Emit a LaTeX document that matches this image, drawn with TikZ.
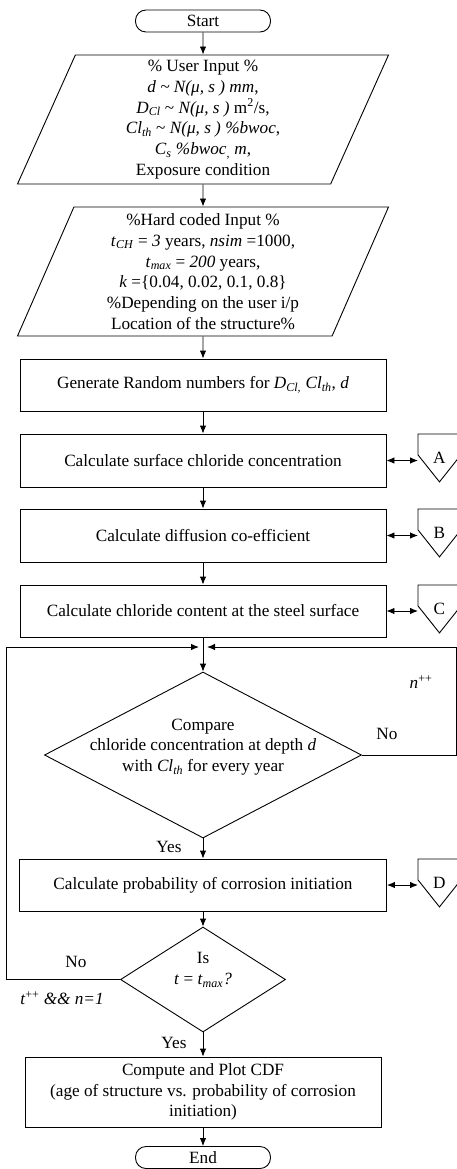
\documentclass[tikz,border=0pt]{standalone}
\usepackage{fontspec}
\setmainfont{Liberation Serif}
\usetikzlibrary{shapes.geometric,arrows.meta}

\newcommand{\tld}{\textasciitilde}
\newcommand{\itsub}[2]{\textit{#1}\textsubscript{\textit{#2}}}

\begin{document}
\begin{tikzpicture}[x=1pt,y=-1pt,
    font=\fontsize{17.2}{20.7}\selectfont,
    line width=0.9pt,
    >={Latex[length=8pt,width=6.5pt]},
    term/.style={draw,rectangle,rounded corners=10.5pt,minimum width=135pt,minimum height=22pt,inner sep=0pt},
    proc/.style={draw,rectangle,minimum width=366pt,minimum height=52pt,inner sep=0pt,align=center},
    io/.style={draw,trapezium,trapezium left angle=64,trapezium right angle=116,trapezium stretches body,minimum width=371pt,minimum height=129pt,inner sep=0pt,align=center},
    decide/.style={draw,diamond,inner sep=0pt},
    offpage/.style={minimum width=42pt,minimum height=47pt,inner sep=0pt,anchor=north west}]
  \useasboundingbox (0,0) rectangle (457,1169);

  \node[term] (start) at (203,21) {Start};
  \node[io] (user) at (203,119.5) {\% User Input \%\\
    \textit{d \tld{} N(μ, s ) mm},\\
    \itsub{D}{Cl} \tld{} \textit{N(μ, s )} m\textsuperscript{2}/s,\\
    \itsub{Cl}{th} \tld{} \textit{N(μ, s ) \%bwoc},\\
    \itsub{C}{s} \textit{\%bwoc}\textsubscript{,} \textit{m},\\
    Exposure condition};
  \node[io] (hard) at (203,271.5) {\%Hard coded Input \%\\
    \itsub{t}{CH} = \textit{3} years, \textit{nsim} =1000,\\
    \itsub{t}{max} = \textit{200} years,\\
    \textit{k} =\{0.04, 0.02, 0.1, 0.8\}\\
    \%Depending on the user i/p\\
    Location of the structure\%};
  \node[proc] (rand) at (203,385) {Generate Random numbers for \itsub{D}{Cl,} \itsub{Cl}{th}, \textit{d}};
  \node[proc,minimum height=53pt] (surf) at (203,460.5) {Calculate surface chloride concentration};
  \node[proc,minimum height=53pt] (diff) at (203,535.5) {Calculate diffusion co-efficient};
  \node[proc] (chl) at (203,611) {Calculate chloride content at the steel surface};
  \coordinate (merge) at (203,647);
  \node[decide,minimum width=317pt,minimum height=166pt,
    label={[yshift=8pt,align=center]center:{Compare\\chloride concentration at depth \textit{d}\\with \itsub{Cl}{th} for every year}}] (cmp) at (203,755) {};
  \node[proc,minimum width=367pt] (prob) at (203,885) {Calculate probability of corrosion initiation};
  \node[decide,minimum width=165pt,minimum height=105pt,
    label={[yshift=9.5pt,align=center]center:{Is\\\textit{t} = \itsub{t}{max}\textit{?}}}] (tmax) at (203,979.5) {};
  \node[proc,minimum width=356pt,minimum height=70pt] (cdf) at (203,1092) {Compute and Plot CDF\\(age of structure vs. probability of corrosion\\initiation)};
  \node[term] (end) at (203,1157.5) {End};

  % off-page connectors
  \foreach \nm/\yy in {A/434,B/509,C/585,D/859}{
    \node[offpage] (\nm) at (418,\yy) {\nm};
    \draw (\nm.north west) -- (\nm.north east) -- ([yshift=27pt]\nm.south east)
      -- (\nm.south) -- ([yshift=27pt]\nm.south west) -- cycle;
  }
  \foreach \from/\to in {surf/A,diff/B,chl/C,prob/D}
    \draw[<->] (\from.east) -- (\from.east -| \to.west);

  % main flow
  \draw[->] (start) -- (user);
  \draw[->] (user) -- (hard);
  \draw[->] (hard) -- (rand);
  \draw[->] (rand) -- (surf);
  \draw[->] (surf) -- (diff);
  \draw[->] (diff) -- (chl);
  \draw[->] (chl) -- (cmp);
  \draw[->] (cmp) -- (prob);
  \draw[->] (prob) -- (tmax);
  \draw[->] (tmax) -- (cdf);
  \draw[->] (cdf) -- (end);

  % loops
  \draw[->] (cmp.east) -- ++(94.5,0) |- ([xshift=4pt]merge);
  \draw[->] (tmax.west) -- ++(-113.5,0) |- ([xshift=-4pt]merge);

  \node (no1) at (387,734) {No};
  \node (nplus) at (421,682) {\textit{n}\textsuperscript{++}};
  \node (yes1) at (169,847) {Yes};
  \node (no2) at (76,962) {No};
  \node (tplus) at (62,998) {\textit{t}\textsuperscript{++} \textit{\&\& n=1}};
  \node (yes2) at (174,1043) {Yes};
\end{tikzpicture}
\end{document}
